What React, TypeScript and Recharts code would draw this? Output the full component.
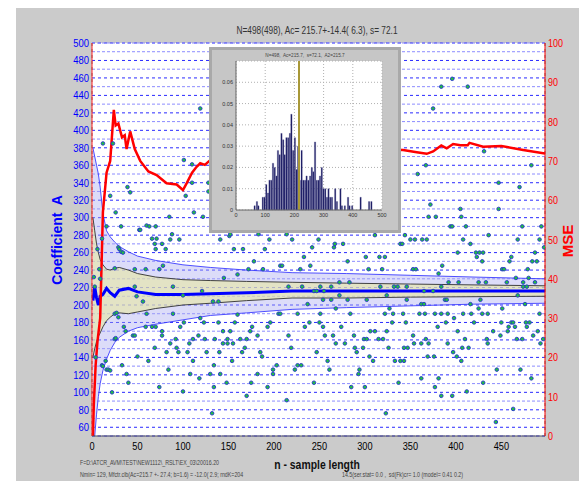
import React from "react";
import {
  Area,
  Bar,
  BarChart,
  CartesianGrid,
  ComposedChart,
  Line,
  ReferenceLine,
  Scatter,
  XAxis,
  YAxis,
} from "recharts";

const FONT = '"Liberation Sans", Arial, sans-serif';

// running statistics of coefficient A vs sample length n
const N_STEPS = [1, 3, 5, 7, 9, 12, 16, 20, 25, 30, 40, 50, 70, 100, 130, 170, 220, 280, 350, 420, 498];
const MEAN_A = [205, 221, 208, 200, 210, 212, 219, 214, 210, 217, 219, 215, 212, 212, 213, 214, 216, 216, 216, 216, 216];
const CI_HI = [300, 285, 270, 260, 252, 246, 241, 240, 242, 243, 240, 236, 232, 229, 228, 227, 226, 225, 224, 223, 222];
const CI_LO = [140, 150, 158, 164, 168, 175, 182, 186, 190, 191, 190, 192, 196, 200, 202, 205, 208, 208, 209, 209.5, 210];
const SD_HI = [380, 370, 360, 350, 335, 305, 285, 278, 272, 267, 261, 256, 251, 246, 243, 240, 237, 236, 234, 232, 230];
const SD_LO = [50, 50, 75, 95, 110, 125, 138, 148, 157, 163, 170, 174, 178, 183, 188, 191, 195, 197, 199, 201, 202];

// MSE curve (right axis)
const MSE_N = [1, 2, 4, 6, 9, 12, 16, 20, 24, 26, 29, 33, 36, 38, 42, 47, 53, 62, 71, 82, 93, 100, 104, 110, 115, 119, 124, 130, 160, 200, 250, 300, 342, 357, 368, 375, 384, 390, 397, 405, 413, 415, 430, 450, 474, 498];
const MSE_V = [0, 8, 18, 24, 30, 57, 67, 70, 83, 79, 79.5, 76, 76.5, 73, 77.5, 73, 70, 67.3, 66.4, 64.3, 64, 62.6, 64.3, 67, 68.5, 69.4, 69, 70.2, 71, 72, 72.5, 73, 72.8, 72.2, 71.8, 72.4, 73.9, 73.2, 74.3, 74, 74, 74.6, 73.6, 73.8, 72.8, 71.9];

// individual samples [n, A]
const POINTS: [number, number][] = [
  [2, 232], [3, 221], [4, 140], [6, 264], [8, 241], [9, 230], [11, 276], [11, 131], [12, 385], [12, 130],
  [15, 136], [16, 290], [16, 126], [18, 126], [20, 325], [20, 125], [22, 100], [23, 385], [25, 242], [25, 190],
  [25, 161], [26, 306], [26, 162], [27, 191], [29, 266], [29, 186], [30, 264], [32, 290], [32, 261], [33, 131],
  [34, 260], [35, 175], [37, 170], [38, 121], [39, 335], [40, 111], [42, 329], [45, 165], [47, 241], [47, 221],
  [47, 165], [49, 210], [50, 141], [52, 286], [53, 286], [56, 204], [59, 241], [59, 175], [60, 190], [60, 291],
  [62, 136], [63, 290], [66, 276], [66, 175], [69, 270], [69, 151], [70, 290], [70, 264], [70, 175], [71, 276],
  [74, 241], [74, 106], [77, 270], [77, 170], [77, 165], [78, 245], [81, 264], [82, 146], [84, 126], [85, 301],
  [86, 275], [86, 156], [88, 281], [89, 221], [89, 190], [92, 161], [93, 151], [95, 146], [96, 275], [97, 175],
  [100, 211], [100, 101], [101, 366], [101, 180], [103, 325], [105, 146], [107, 156], [108, 121], [110, 361], [110, 340],
  [111, 161], [111, 136], [112, 306], [117, 165], [118, 116], [119, 425], [119, 185], [121, 216], [122, 301], [123, 180],
  [124, 161], [126, 146], [128, 340], [128, 330], [130, 121], [132, 76], [133, 204], [134, 131], [134, 106], [135, 161],
  [139, 204], [139, 180], [140, 146], [141, 275], [141, 121], [144, 170], [144, 156], [145, 231], [148, 111], [149, 161],
  [149, 156], [151, 279], [152, 281], [152, 170], [154, 136], [155, 156], [156, 264], [157, 180], [160, 235], [160, 189],
  [163, 161], [165, 146], [166, 264], [168, 151], [170, 161], [170, 96], [172, 241], [174, 170], [175, 111], [176, 175],
  [178, 250], [182, 165], [182, 121], [183, 281], [185, 146], [187, 141], [188, 241], [190, 264], [193, 175], [193, 106],
  [195, 275], [196, 180], [199, 126], [199, 121], [203, 131], [205, 190], [207, 245], [207, 190], [209, 245], [214, 281],
  [214, 91], [216, 221], [216, 165], [219, 151], [220, 275], [223, 126], [226, 190], [226, 131], [229, 241], [230, 131],
  [231, 221], [233, 255], [234, 175], [237, 201], [239, 180], [240, 245], [242, 266], [244, 216], [244, 111], [247, 216],
  [247, 146], [249, 275], [250, 180], [251, 221], [251, 190], [254, 206], [254, 175], [255, 216], [256, 165], [259, 136],
  [261, 126], [263, 221], [263, 206], [265, 165], [266, 266], [267, 270], [268, 196], [268, 156], [272, 226], [272, 211],
  [274, 175], [276, 270], [278, 156], [281, 250], [281, 206], [283, 226], [284, 190], [285, 106], [288, 165], [289, 151],
  [291, 146], [293, 121], [294, 126], [298, 151], [299, 161], [300, 106], [301, 255], [302, 206], [302, 161], [304, 241],
  [305, 141], [306, 170], [309, 136], [311, 280], [311, 170], [315, 161], [316, 255], [317, 221], [319, 241], [320, 161],
  [322, 255], [322, 190], [323, 76], [324, 211], [324, 170], [326, 151], [327, 196], [330, 180], [331, 190], [332, 221],
  [333, 136], [336, 221], [337, 111], [339, 270], [339, 136], [341, 270], [342, 190], [343, 151], [343, 136], [344, 280],
  [345, 180], [346, 221], [346, 206], [347, 151], [350, 275], [353, 241], [353, 165], [354, 156], [355, 275], [356, 241],
  [358, 350], [360, 190], [362, 201], [362, 156], [362, 116], [363, 275], [365, 216], [365, 201], [366, 190], [367, 360],
  [367, 161], [368, 275], [369, 141], [370, 301], [370, 156], [372, 315], [375, 425], [375, 216], [376, 141], [377, 190],
  [377, 106], [378, 301], [380, 175], [381, 236], [381, 116], [384, 450], [384, 221], [384, 190], [384, 96], [385, 245],
  [388, 206], [389, 180], [390, 206], [391, 190], [391, 156], [392, 226], [394, 290], [396, 459], [396, 290], [396, 96],
  [397, 146], [398, 185], [401, 141], [402, 260], [402, 170], [403, 226], [405, 310], [406, 301], [406, 136], [407, 151],
  [408, 275], [408, 190], [410, 161], [411, 290], [412, 101], [413, 450], [414, 151], [416, 270], [416, 201], [417, 190],
  [420, 180], [422, 260], [423, 255], [425, 226], [425, 196], [426, 260], [427, 206], [429, 250], [429, 190], [430, 260],
  [430, 111], [431, 376], [433, 226], [434, 161], [435, 190], [435, 156], [436, 280], [441, 170], [444, 66], [445, 126],
  [447, 340], [447, 310], [449, 165], [450, 180], [451, 241], [451, 196], [453, 241], [456, 226], [457, 170], [458, 175],
  [459, 250], [461, 255], [461, 180], [463, 180], [463, 81], [465, 175], [466, 231], [467, 161], [468, 275], [468, 211],
  [470, 335], [471, 126], [473, 290], [473, 161], [474, 221], [474, 226], [476, 201], [477, 180], [478, 221], [478, 175],
  [479, 241], [480, 231], [481, 180], [483, 360], [483, 116], [484, 250], [485, 165], [487, 260], [487, 226], [489, 250],
  [490, 170], [492, 275], [492, 190], [493, 156], [494, 290], [496, 161], [497, 266],
];

// inset histogram of A
const HIST_A = [64, 72, 77, 92, 98, 104, 110, 115, 121, 127, 133, 139, 144, 150, 156, 162, 167, 173, 179, 185, 190, 196, 202, 208, 213, 219, 225, 231, 237, 242, 248, 254, 260, 265, 271, 277, 283, 288, 294, 300, 306, 312, 317, 323, 329, 340, 346, 358, 363, 373, 384, 389, 398, 427, 456, 464];
const HIST_D = [0.002, 0.004, 0.002, 0.006, 0.006, 0.012, 0.008, 0.014, 0.014, 0.022, 0.02, 0.016, 0.028, 0.026, 0.036, 0.033, 0.026, 0.034, 0.034, 0.036, 0.045, 0.028, 0.034, 0.019, 0.03, 0.014, 0.028, 0.014, 0.014, 0.016, 0.014, 0.016, 0.02, 0.018, 0.032, 0.014, 0.014, 0.016, 0.02, 0.01, 0.01, 0.006, 0.01, 0.006, 0.006, 0.01, 0.004, 0.01, 0.002, 0.002, 0.006, 0.002, 0.002, 0.006, 0.004, 0.004];

const X_TICKS = [0, 50, 100, 150, 200, 250, 300, 350, 400, 450];
const A_TICKS = [60, 80, 100, 120, 140, 160, 180, 200, 220, 240, 260, 280, 300, 320, 340, 360, 380, 400, 420, 440, 460, 480, 500];
const A_MINOR = [70, 90, 110, 130, 150, 170, 190, 210, 230, 250, 270, 290, 310, 330, 350, 370, 390, 410, 430, 450, 470, 490];
const MSE_TICKS = [0, 10, 20, 30, 40, 50, 60, 70, 80, 90, 100];
const HIST_X_TICKS = [0, 100, 200, 300, 400, 500];
const HIST_Y_TICKS = [0, 0.01, 0.02, 0.03, 0.04, 0.05, 0.06];

const bandData = N_STEPS.map((n, i) => ({
  n,
  mean: MEAN_A[i],
  ciHi: CI_HI[i],
  ciLo: CI_LO[i],
  sdHi: SD_HI[i],
  sdLo: SD_LO[i],
  sd: [SD_LO[i], SD_HI[i]],
  ci: [CI_LO[i], CI_HI[i]],
}));
const mseData = MSE_N.map((n, i) => ({ n, mse: MSE_V[i] }));
const pointData = POINTS.map(([n, a]) => ({ n, a }));
const histData = HIST_A.map((a, i) => ({ a, d: HIST_D[i] }));

function makeTick(opts: { fill: string; size: number; sx: number; anchor: "start" | "middle" | "end"; dy: number; fmt?: (v: number) => string }) {
  return (props: any) => {
    const { x, y, payload } = props;
    return (
      <text
        x={0}
        y={0}
        dy={opts.dy}
        transform={`translate(${x},${y}) scale(${opts.sx},1)`}
        textAnchor={opts.anchor}
        fill={opts.fill}
        fontSize={opts.size}
        fontFamily={FONT}
      >
        {opts.fmt ? opts.fmt(payload.value) : payload.value}
      </text>
    );
  };
}

const dotShape = (p: any) => (
  <circle cx={p.cx} cy={p.cy} r={1.8} fill="#22c040" stroke="#2438c8" strokeWidth={0.9} />
);

function Text(props: { left: number; top: number; size: number; color: string; bold?: boolean; sx?: number; rotate?: boolean; children: React.ReactNode; anchor?: "left" | "center" }) {
  const center = props.anchor !== "left";
  const tf = [
    center ? "translate(-50%,-50%)" : "translate(0,-50%)",
    props.rotate ? "rotate(-90deg)" : "",
    props.sx ? `scaleX(${props.sx})` : "",
  ].join(" ");
  return (
    <div
      style={{
        position: "absolute",
        left: props.left,
        top: props.top,
        transform: tf,
        transformOrigin: center ? "50% 50%" : "0 50%",
        fontSize: props.size,
        color: props.color,
        fontWeight: props.bold ? 700 : 400,
        whiteSpace: "pre",
        lineHeight: 1,
        fontFamily: FONT,
      }}
    >
      {props.children}
    </div>
  );
}

export default function App() {
  return (
    <div style={{ position: "absolute", left: 0, top: 0, width: 579, height: 481, background: "#ffffff", overflow: "hidden" }}>
      <div style={{ position: "absolute", left: 16, top: 8, width: 563, height: 473, background: "#cbcbcb" }} />

      <div style={{ position: "absolute", left: 0, top: 0 }}>
        <ComposedChart width={579} height={481} margin={{ top: 43, right: 4, bottom: 15, left: 32 }}>
          <CartesianGrid yAxisId="left" fill="#ffffff" vertical={false} stroke="#2a2aff" strokeDasharray="3 3" />
          <CartesianGrid yAxisId="minor" vertical={false} stroke="#8c8cff" strokeDasharray="3 2" />
          <CartesianGrid xAxisId="top" yAxisId="left" horizontal={false} stroke="#707070" strokeDasharray="3 3" />

          <XAxis
            dataKey="n"
            type="number"
            domain={[0, 498]}
            allowDataOverflow
            ticks={X_TICKS}
            interval={0}
            height={30}
            tickLine={false}
            tickSize={4}
            tickMargin={2}
            axisLine={{ stroke: "#555555" }}
            tick={makeTick({ fill: "#000", size: 11.5, sx: 0.8, anchor: "middle", dy: 8 })}
          />
          <XAxis
            xAxisId="top"
            orientation="top"
            dataKey="n"
            type="number"
            domain={[0, 498]}
            allowDataOverflow
            ticks={X_TICKS.slice(1)}
            interval={0}
            height={0}
            mirror
            tick={false}
            tickSize={4}
            tickLine={{ stroke: "#000" }}
            axisLine={{ stroke: "#000" }}
          />
          <YAxis
            yAxisId="left"
            type="number"
            domain={[50, 500]}
            allowDataOverflow
            ticks={A_TICKS}
            interval={0}
            width={60}
            tickLine={false}
            tickSize={2}
            tickMargin={1}
            axisLine={{ stroke: "#ff2020" }}
            tick={makeTick({ fill: "#0000ff", size: 10.5, sx: 0.9, anchor: "end", dy: 3.8 })}
          />
          <YAxis
            yAxisId="minor"
            type="number"
            domain={[50, 500]}
            allowDataOverflow
            ticks={A_MINOR}
            interval={0}
            hide
          />
          <YAxis
            yAxisId="mseL"
            orientation="left"
            type="number"
            domain={[0, 100]}
            ticks={MSE_TICKS}
            interval={0}
            width={0}
            mirror
            tick={false}
            tickSize={4}
            tickLine={{ stroke: "#ff0000" }}
            axisLine={false}
          />
          <YAxis
            yAxisId="mse"
            orientation="right"
            type="number"
            domain={[0, 100]}
            allowDataOverflow
            ticks={MSE_TICKS}
            interval={0}
            width={30}
            tickLine={false}
            tickSize={2}
            tickMargin={1}
            axisLine={{ stroke: "#ff0000" }}
            tick={makeTick({ fill: "#ff0000", size: 11.5, sx: 0.78, anchor: "start", dy: 4 })}
          />
          <YAxis
            yAxisId="mseR"
            orientation="right"
            type="number"
            domain={[0, 100]}
            ticks={MSE_TICKS}
            interval={0}
            width={0}
            mirror
            tick={false}
            tickSize={4}
            tickLine={{ stroke: "#ff0000" }}
            axisLine={false}
          />

          <Area data={bandData} yAxisId="left" dataKey="sd" type="linear" stroke="none" fill="#a8a8f0" fillOpacity={0.4} isAnimationActive={false} />
          <Area data={bandData} yAxisId="left" dataKey="ci" type="linear" stroke="none" fill="#e8e8a2" fillOpacity={0.6} isAnimationActive={false} />
          <Line data={bandData} yAxisId="left" dataKey="sdHi" type="linear" stroke="#3c3cff" strokeWidth={0.9} dot={false} isAnimationActive={false} />
          <Line data={bandData} yAxisId="left" dataKey="sdLo" type="linear" stroke="#3c3cff" strokeWidth={0.9} dot={false} isAnimationActive={false} />
          <Line data={bandData} yAxisId="left" dataKey="ciHi" type="linear" stroke="#303030" strokeWidth={0.9} dot={false} isAnimationActive={false} />
          <Line data={bandData} yAxisId="left" dataKey="ciLo" type="linear" stroke="#303030" strokeWidth={0.9} dot={false} isAnimationActive={false} />
          <Scatter data={pointData} yAxisId="left" dataKey="a" shape={dotShape} isAnimationActive={false} />
          <Line data={bandData} yAxisId="left" dataKey="mean" type="linear" stroke="#0000ff" strokeWidth={3} dot={false} isAnimationActive={false} />
          <Line data={mseData} yAxisId="mse" dataKey="mse" type="linear" stroke="#ff0000" strokeWidth={2.5} dot={false} isAnimationActive={false} />
        </ComposedChart>
      </div>

      <Text left={317} top={31} size={10} color="#333" sx={0.83}>N=498(498), Ac= 215.7+-14.4( 6.3), s= 72.1</Text>
      <Text left={57} top={240} size={14} color="#0000ff" bold rotate>Coefficient  A</Text>
      <Text left={567} top={241} size={15} color="#ff0000" bold rotate>MSE</Text>
      <Text left={317} top={464} size={13} color="#111" bold sx={0.8}>n - sample length</Text>
      <Text left={80} top={463} size={8} color="#444" sx={0.66} anchor="left">F=D:\ATCR_AVM\TEST\NEW1112\_RSLT\EX_03\20016.20</Text>
      <Text left={80} top={475} size={8} color="#444" sx={0.66} anchor="left">Nmin= 129, Mfctr.clb(Ac=215.7 +- 27.4; b=1.6) = -12.0( 2.9; rndK=204</Text>
      <Text left={342} top={475} size={8} color="#444" sx={0.66} anchor="left">14.5(ser.stat= 0.0 ,  sd(Fk)cr= 1.0 (model= 0.41 0.2)</Text>

      <div style={{ position: "absolute", left: 209, top: 47, width: 192, height: 186, background: "#c6c6c6", boxShadow: "inset 0 0 0 3px #a9a9a9" }}>
        <BarChart width={192} height={186} data={histData} margin={{ top: 14, right: 19, bottom: 11, left: 5 }}>
          <CartesianGrid fill="#ffffff" stroke="#b0b0b0" strokeDasharray="1 2" />
          <XAxis
            dataKey="a"
            type="number"
            domain={[0, 500]}
            ticks={HIST_X_TICKS}
            interval={0}
            height={12}
            tickLine={false}
            tickSize={2}
            tickMargin={1}
            axisLine={{ stroke: "#666" }}
            tick={makeTick({ fill: "#333", size: 5.5, sx: 1, anchor: "middle", dy: 4 })}
          />
          <YAxis
            type="number"
            domain={[0, 0.07]}
            ticks={HIST_Y_TICKS}
            interval={0}
            width={22}
            tickLine={false}
            tickSize={2}
            tickMargin={1}
            axisLine={{ stroke: "#666" }}
            tick={makeTick({ fill: "#333", size: 5.5, sx: 1, anchor: "end", dy: 2, fmt: (v) => (v === 0 ? "0" : v.toFixed(2)) })}
          />
          <Bar dataKey="d" fill="#12125c" stroke="#6a6aa0" strokeWidth={0.3} barSize={2} isAnimationActive={false} />
          <ReferenceLine x={215.7} stroke="#a89838" strokeWidth={2} />
        </BarChart>
      </div>
      <Text left={305} top={56} size={5.5} color="#444" sx={0.85}>N=498,  Ac=215.7,  s=72.1,  A2=215.7</Text>
    </div>
  );
}
